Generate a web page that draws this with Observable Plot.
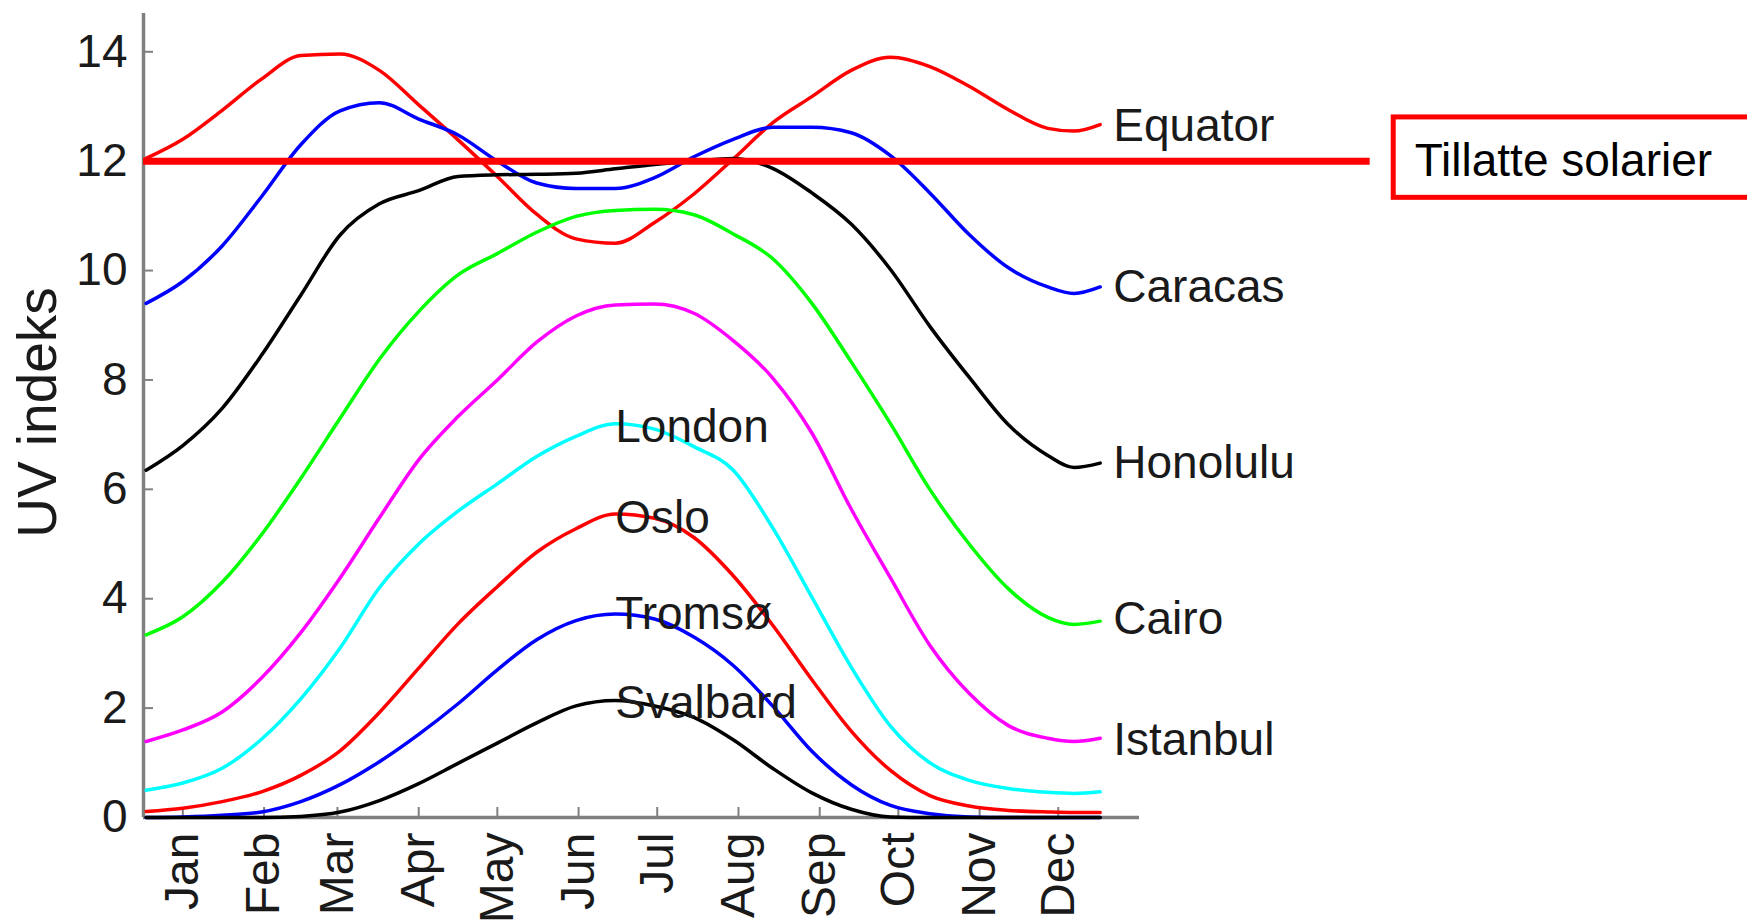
<!DOCTYPE html>
<html><head><meta charset="utf-8">
<script src="https://cdn.jsdelivr.net/npm/d3@7"></script>
<script src="https://cdn.jsdelivr.net/npm/@observablehq/plot@0.6"></script>
<style>html,body{margin:0;padding:0;background:#fff;} svg{display:block}</style>
</head><body><div id="chart"></div>
<script>
// Day of year for each sample
const days = [1,15,30,45,60,75,90,105,120,135,150,165,180,195,210,225,240,255,270,285,300,315,330,345,355,365];
const equator  = [12.05,12.4,12.93,13.5,13.93,13.96,13.66,13.03,12.39,11.72,11.03,10.58,10.5,10.88,11.4,12.04,12.7,13.18,13.66,13.9,13.73,13.37,12.94,12.6,12.55,12.67];
const caracas  = [9.4,9.8,10.45,11.35,12.3,12.92,13.07,12.77,12.48,12.0,11.6,11.5,11.5,11.7,12.08,12.4,12.62,12.62,12.52,12.1,11.42,10.66,10.05,9.7,9.58,9.7];
const honolulu = [6.35,6.8,7.48,8.45,9.55,10.65,11.22,11.46,11.72,11.75,11.76,11.78,11.86,11.94,12.0,12.05,11.87,11.42,10.85,10.02,8.98,8.05,7.18,6.62,6.4,6.48];
const cairo    = [3.34,3.67,4.3,5.17,6.2,7.3,8.38,9.25,9.92,10.31,10.7,10.99,11.1,11.12,11.02,10.67,10.22,9.4,8.33,7.2,6.0,5.0,4.18,3.66,3.53,3.59];
const istanbul = [1.39,1.6,1.93,2.55,3.38,4.38,5.48,6.54,7.33,8.0,8.69,9.17,9.37,9.39,9.22,8.72,8.04,7.03,5.64,4.38,3.15,2.27,1.68,1.45,1.39,1.45];
const london   = [0.5,0.63,0.9,1.43,2.17,3.1,4.2,5.0,5.6,6.1,6.6,6.97,7.2,7.1,6.78,6.35,5.3,4.03,2.75,1.67,1.0,0.68,0.53,0.46,0.44,0.47];
const oslo     = [0.11,0.17,0.29,0.47,0.77,1.22,1.92,2.73,3.54,4.22,4.85,5.28,5.55,5.47,5.12,4.42,3.52,2.52,1.58,0.86,0.4,0.21,0.13,0.1,0.09,0.09];
const tromso   = [0,0.01,0.04,0.1,0.29,0.6,1.02,1.52,2.08,2.7,3.25,3.6,3.72,3.63,3.3,2.78,2.04,1.21,0.6,0.22,0.07,0.01,0,0,0,0];
const svalbard = [0,0,0,0,0.02,0.1,0.31,0.62,0.99,1.36,1.73,2.04,2.14,2.04,1.83,1.42,0.9,0.45,0.15,0.01,0,0,0,0,0,0];

const cities = ["Equator","Caracas","Honolulu","Cairo","Istanbul","London","Oslo","Tromsø","Svalbard"];
const cityColors = ["#ff0000","#0000ff","#000000","#00ff00","#ff00ff","#00ffff","#ff0000","#0000ff","#000000"];
const seriesValues = [equator, caracas, honolulu, cairo, istanbul, london, oslo, tromso, svalbard];

// City label anchors (day, UV)
const labelDay = [370,370,370,370,370,180,180,180,180];
const labelUV  = [12.64,9.70,6.48,3.63,1.42,7.14,5.47,3.72,2.09];

const monthNames = ["Jan","Feb","Mar","Apr","May","Jun","Jul","Aug","Sep","Oct","Nov","Dec"];
const monthDays  = [15,46,74,105,135,166,196,227,258,288,319,349];
const yTicks = [0,2,4,6,8,10,12,14];

// Limit annotation
const limitUV = 12;
const limitLineDays = [0, 468];
const limitText = "Tillatte solarier";
const limitTextDay = 485;
const boxDays = [477, 660];
const boxUV = [11.33, 12.8];
const yLabel = "UV indeks";

const rows = seriesValues.flatMap((vals, k) =>
  vals.map((v, i) => ({city: cities[k], color: cityColors[k], day: days[i], uv: v})));
const labels = cities.map((c, k) => ({city: c, day: labelDay[k], uv: labelUV[k]}));

const axisGray = "#808080";
const font = "'Liberation Sans', Arial, Helvetica, sans-serif";
const fs = 46;

const chart = Plot.plot({
  width: 1747,
  height: 924,
  marginLeft: 143,
  marginRight: 608,
  marginTop: 13,
  marginBottom: 107,
  style: {fontFamily: font, background: "#fff", color: "#1a1a1a", overflow: "hidden"},
  x: {domain: [0, 380], label: null},
  y: {domain: [0, 14.7], label: null},
  color: {type: "identity"},
  marks: [
    Plot.ruleX([0], {stroke: axisGray, strokeWidth: 3.5}),
    Plot.ruleY([0], {stroke: axisGray, strokeWidth: 3.5}),
    Plot.axisY(yTicks, {tickSize: -10, tickPadding: 26, fontSize: fs, stroke: axisGray, strokeWidth: 2, label: null,
      tickFormat: d => String(d)}),
    Plot.axisX(monthDays, {tickSize: -10, tickPadding: 25, tickRotate: -90, fontSize: 48, stroke: axisGray, strokeWidth: 2, label: null,
      tickFormat: d => monthNames[monthDays.indexOf(d)]}),
    Plot.text([yLabel], {text: d => d, frameAnchor: "left", rotate: -90, dx: -105, dy: -3, fontSize: 55, textAnchor: "middle", lineAnchor: "middle", fill: "#1a1a1a"}),
    Plot.line(rows, {x: "day", y: "uv", z: "city", stroke: "color", strokeWidth: 3.5, curve: "monotone-x"}),
    Plot.ruleY([limitUV], {x1: limitLineDays[0], x2: limitLineDays[1], stroke: "#ff0000", strokeWidth: 7}),
    Plot.rect([0], {x1: boxDays[0], x2: boxDays[1], y1: boxUV[0], y2: boxUV[1], fill: "none", stroke: "#ff0000", strokeWidth: 5}),
    Plot.text([limitText], {text: d => d, x: limitTextDay, y: limitUV, textAnchor: "start", lineAnchor: "middle", fontSize: fs, fill: "#000"}),
    Plot.text(labels, {x: "day", y: "uv", text: "city", textAnchor: "start", lineAnchor: "middle", fontSize: fs, fill: "#1a1a1a"})
  ]
});
document.getElementById("chart").appendChild(chart);
</script>
</body></html>
